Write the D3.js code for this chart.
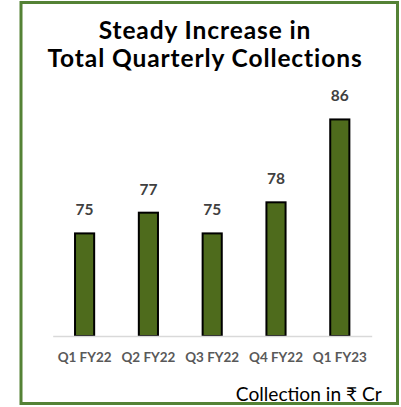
<!DOCTYPE html>
<html>
<head>
<meta charset="utf-8">
<script src="https://cdn.jsdelivr.net/npm/d3@7"></script>
<style>
  body { margin: 0; background: #fff; }
  svg { display: block; }
</style>
</head>
<body>
<div id="chart"></div>
<script>
var quarters = ['Q1 FY22', 'Q2 FY22', 'Q3 FY22', 'Q4 FY22', 'Q1 FY23'];
var collections = [75, 77, 75, 78, 86];
var titleLines = ['Steady Increase in', 'Total Quarterly Collections'];
var unitNote = 'Collection in \u20B9 Cr';

var width = 401, height = 407;
var font = 'Lato, "Open Sans", sans-serif';

// scale a text's font size so that it spans the given width
function fitWidth(sel, target){
	var node = sel.node();
	var fs = parseFloat(sel.style('font-size'));
	var w = node.getComputedTextLength();
	if(w > 0) sel.style('font-size', (fs * target / w) + 'px');
}

var svg = d3.select('#chart').append('svg')
	.attr('width', width)
	.attr('height', height);

// outer frame
svg.append('rect')
	.attr('x', 21).attr('y', 2.5)
	.attr('width', 376.5).attr('height', 401)
	.attr('fill', '#fff')
	.attr('stroke', '#548235')
	.attr('stroke-width', 3);

var x = d3.scaleBand()
	.domain(quarters)
	.range([52.7, 371.7])
	.paddingInner(0.70)
	.paddingOuter(0.35);

var y = d3.scaleLinear()
	.domain([65, 90])
	.range([336, 77]);

// title
svg.selectAll('.title')
	.data(titleLines)
	.enter()
	.append('text')
	.attr('class', 'title')
	.attr('x', 205)
	.attr('y', function(d, i){ return 39 + i*28; })
	.attr('text-anchor', 'middle')
	.style('font-family', font)
	.style('font-weight', 'bold')
	.style('font-size', '24.5px')
	.style('letter-spacing', '0.9px')
	.attr('fill', '#000')
	.text(function(d){ return d; });

// bars
svg.selectAll('.bar')
	.data(collections)
	.enter()
	.append('rect')
	.attr('class', 'bar')
	.attr('x', function(d, i){ return x(quarters[i]); })
	.attr('y', function(d){ return y(d) + 1; })
	.attr('width', x.bandwidth())
	.attr('height', function(d){ return y(65) - y(d) - 1; })
	.attr('fill', '#4E6B1C')
	.attr('stroke', '#000')
	.attr('stroke-width', 2);

// baseline axis
var xAxis = d3.axisBottom(x).tickSize(0);
var axisG = svg.append('g')
	.attr('transform', 'translate(0,' + y(65) + ')')
	.call(xAxis);
axisG.select('.domain')
	.attr('stroke', '#d9d9d9')
	.attr('stroke-width', 1.5);
axisG.selectAll('text')
	.attr('dy', null)
	.attr('y', 26)
	.style('font-family', font)
	.style('font-weight', 'bold')
	.style('font-size', '14.5px')
	.attr('fill', '#595959');
fitWidth(axisG.select('.tick text'), 54);
axisG.selectAll('text').style('font-size', axisG.select('.tick text').style('font-size'));

// value labels
svg.selectAll('.val')
	.data(collections)
	.enter()
	.append('text')
	.attr('class', 'val')
	.attr('x', function(d, i){ return x(quarters[i]) + x.bandwidth()/2; })
	.attr('y', function(d){ return y(d) - 17; })
	.attr('text-anchor', 'middle')
	.style('font-family', font)
	.style('font-weight', 'bold')
	.style('font-size', '15.5px')
	.attr('fill', '#404040')
	.text(function(d){ return d; });

// unit note
var note = svg.append('text')
	.attr('x', 381.7)
	.attr('y', 401)
	.attr('text-anchor', 'end')
	.style('font-family', font)
	.style('font-size', '19px')
	.attr('fill', '#000')
	.text(unitNote);
fitWidth(note, 146);
</script>
</body>
</html>
